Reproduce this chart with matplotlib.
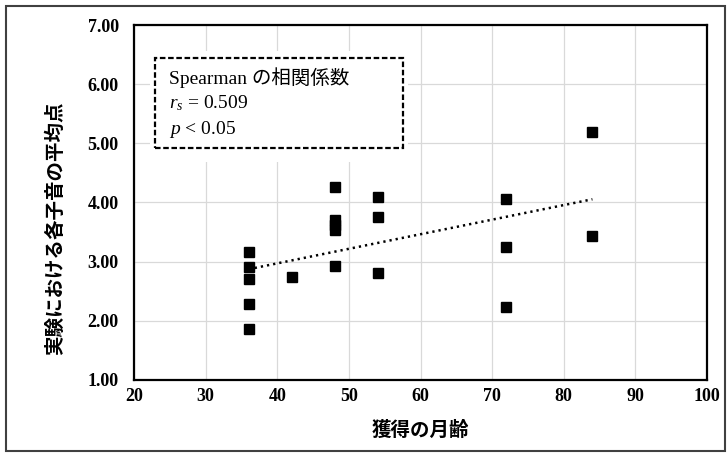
import numpy as np
import matplotlib
matplotlib.use('Agg')
import matplotlib.pyplot as plt
from matplotlib.patches import Rectangle

plt.rcParams['font.family'] = ['Liberation Serif', 'Noto Sans CJK JP']
plt.rcParams['mathtext.fontset'] = 'custom'
plt.rcParams['mathtext.rm'] = 'Liberation Serif'
plt.rcParams['mathtext.it'] = 'Liberation Serif:italic'

# data
age_months = [36, 36, 36, 36, 36, 42, 48, 48, 48, 48, 48,
              54, 54, 54, 72, 72, 72, 84, 84]
mean_score = [3.16, 2.91, 2.70, 2.29, 1.86, 2.74, 4.27, 3.71, 3.62, 3.54, 2.93,
              4.10, 3.76, 2.81, 4.06, 3.24, 2.24, 5.19, 3.43]

x_ticks = [20, 30, 40, 50, 60, 70, 80, 90, 100]
y_ticks = [1, 2, 3, 4, 5, 6, 7]

xlabel = '獲得の月齢'
ylabel = '実験における各子音の平均点'
box_lines = ['Spearman の相関係数', '$r_s$ = 0.509', '$p$ < 0.05']

fig = plt.figure(figsize=(7.28, 4.53), dpi=100)
ax = fig.add_axes([134 / 728, 1 - 380 / 453, 573 / 728, 355 / 453])

x = np.array(age_months, dtype=float)
y = np.array(mean_score)

ax.plot(x, y, linestyle='none', marker='s', markersize=7.3,
        color='black', zorder=4)

# linear trendline (Excel style)
slope, icpt = np.polyfit(x, y, 1)
xt = np.array([x.min(), x.max()])
ax.plot(xt, slope * xt + icpt, color='black', lw=1.8,
        linestyle=(0, (0.9, 1.6)), zorder=3)

ax.set_xlim(20, 100)
ax.set_ylim(1, 7)
ax.set_xticks(x_ticks)
ax.set_yticks(y_ticks)
ax.set_yticklabels([f'{v:.2f}' for v in y_ticks])
ax.tick_params(length=0, labelsize=13)
ax.tick_params(axis='y', pad=11)
ax.tick_params(axis='x', pad=6)
for lab in ax.get_xticklabels() + ax.get_yticklabels():
    lab.set_fontweight('bold')
    lab.set_family('Liberation Serif')

ax.grid(True, color='#d9d9d9', lw=0.9)
ax.set_axisbelow(True)
for s in ax.spines.values():
    s.set_color('black')
    s.set_linewidth(1.6)

# text box: white fill hides the grid, dashed outline
ax.add_patch(Rectangle((0.028, 0.614), 0.45, 0.313, transform=ax.transAxes,
                       facecolor='white', edgecolor='none', zorder=2))
ax.add_patch(Rectangle((0.0367, 0.653), 0.432, 0.253, transform=ax.transAxes,
                       facecolor='none', edgecolor='black', lw=1.6,
                       linestyle=(0, (2.5, 1.2)), zorder=5))
for i, t in enumerate(box_lines):
    ax.text((169 - 134) / 573, (380 - 78 - 25.5 * i) / 355, t,
            transform=ax.transAxes, fontsize=14, va='center', ha='left',
            zorder=6)

fig.text(420 / 728, 1 - 430 / 453, xlabel, ha='center', va='center',
         fontsize=14, fontweight='bold', family='Noto Sans CJK JP')
fig.text(55 / 728, 1 - 228 / 453, ylabel, ha='center', va='center',
         rotation=90, fontsize=14, fontweight='bold', family='Noto Sans CJK JP')

# chart area border
fig.add_artist(Rectangle((5.5 / 728, 1 - 450.5 / 453), 719.5 / 728, 444.5 / 453,
                         transform=fig.transFigure, facecolor='none',
                         edgecolor='#404040', lw=1.5))

fig.savefig('out.png', dpi=100)
